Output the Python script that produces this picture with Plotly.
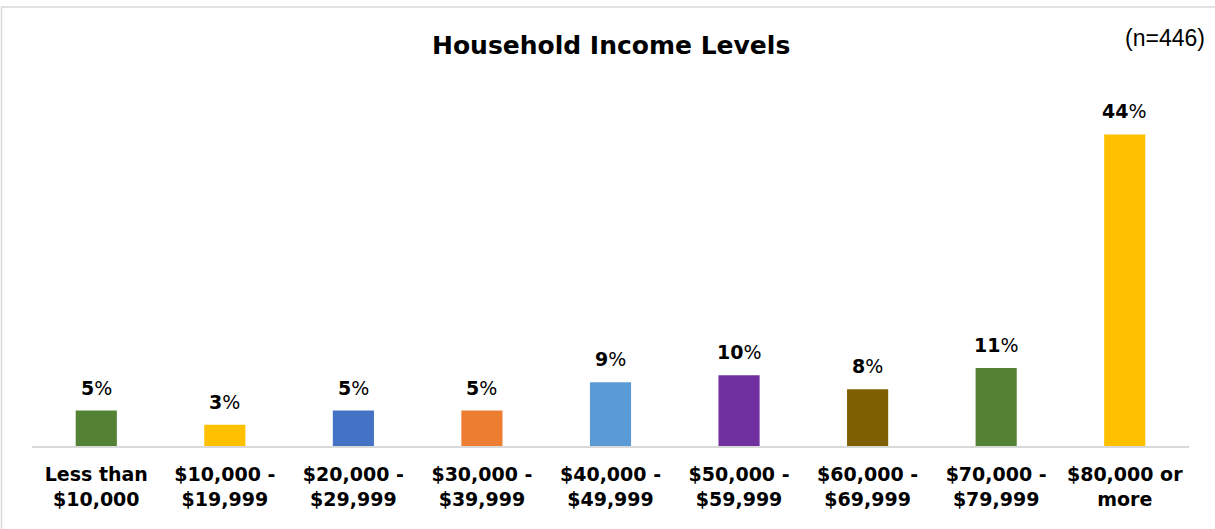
import plotly.graph_objects as go

# Household income distribution (share of respondents, %)
categories = [
    "Less than<br>$10,000",
    "$10,000 -<br>$19,999",
    "$20,000 -<br>$29,999",
    "$30,000 -<br>$39,999",
    "$40,000 -<br>$49,999",
    "$50,000 -<br>$59,999",
    "$60,000 -<br>$69,999",
    "$70,000 -<br>$79,999",
    "$80,000 or<br>more",
]
shares = [5, 3, 5, 5, 9, 10, 8, 11, 44]
bar_colors = ["#548235", "#FFC000", "#4472C4", "#ED7D31", "#5B9BD5",
              "#7030A0", "#7F6000", "#548235", "#FFC000"]

W, H = 1215, 529
M_L, M_R, M_T, M_B = 32, 26, 92, 83
plot_w = W - M_L - M_R
plot_h = H - M_T - M_B


def px_x(px):
    return (px - M_L) / plot_w


def px_y(py):
    return (H - py - M_B) / plot_h


fig = go.Figure(
    go.Bar(
        x=list(range(len(categories))),
        y=shares,
        marker=dict(color=bar_colors, line=dict(width=0)),
        hoverinfo="skip",
    )
)

# Value labels above each bar
for i, v in enumerate(shares):
    fig.add_annotation(
        x=i, y=v, xref="x", yref="y",
        text=f"<b>{v}</b>%",
        showarrow=False, yanchor="bottom", yshift=10,
        font=dict(family="DejaVu Sans", size=19, color="#000000"),
    )

# Chart title and sample size
fig.add_annotation(
    x=px_x(611), y=px_y(45), xref="paper", yref="paper",
    text="<b>Household Income Levels</b>",
    showarrow=False, xanchor="center", yanchor="middle",
    font=dict(family="DejaVu Sans", size=25, color="#000000"),
)
fig.add_annotation(
    x=px_x(1207), y=px_y(38), xref="paper", yref="paper", text="(n=446)",
    showarrow=False, xanchor="right", yanchor="middle",
    font=dict(family="Liberation Sans", size=23, color="#000000"),
)

# Outer chart-area frame
fig.add_shape(
    type="rect", xref="paper", yref="paper",
    x0=px_x(1.5), x1=1.1,
    y0=-0.5, y1=px_y(7),
    line=dict(color="#d9d9d9", width=1.5), fillcolor="rgba(0,0,0,0)",
    layer="below",
)

fig.update_layout(
    width=W, height=H,
    margin=dict(l=M_L, r=M_R, t=M_T, b=M_B),
    paper_bgcolor="#ffffff", plot_bgcolor="#ffffff",
    bargap=0.68,
    showlegend=False,
    font=dict(family="DejaVu Sans", color="#000000"),
    xaxis=dict(
        tickmode="array", tickvals=list(range(len(categories))),
        ticktext=[f"<b>{c}</b>" for c in categories],
        range=[-0.5, len(categories) - 0.5],
        showline=True, linecolor="#d9d9d9", linewidth=2,
        showgrid=False, zeroline=False, ticks="",
        ticklabelstandoff=10,
        tickfont=dict(family="DejaVu Sans", size=19, color="#000000"),
        fixedrange=True,
    ),
    yaxis=dict(
        range=[0, 50], visible=False, showgrid=False, zeroline=False,
        fixedrange=True,
    ),
)

fig.write_html("out.html", config={"displayModeBar": False})
